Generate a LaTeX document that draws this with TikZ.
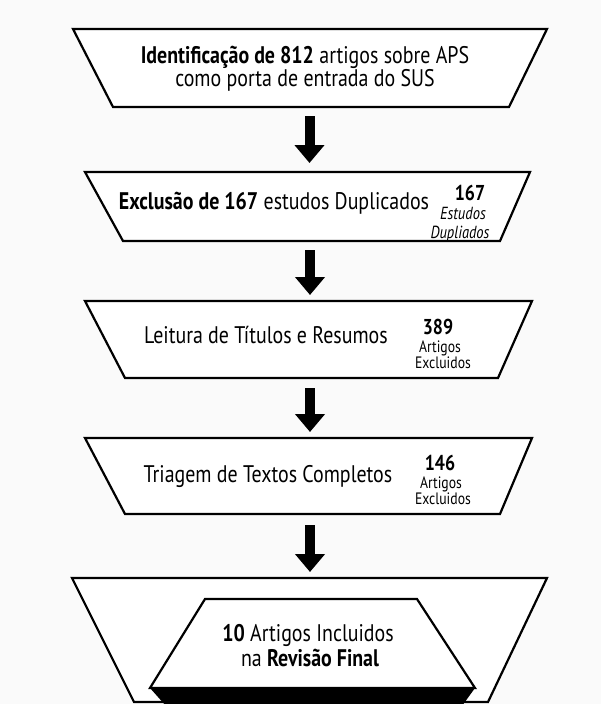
\documentclass[tikz,border=0pt]{standalone}
\usepackage{fontspec}
\setmainfont{PT Sans}[FakeStretch=0.83]
\usetikzlibrary{arrows.meta}
\begin{document}
\begin{tikzpicture}[x=1pt,y=-1pt,
 box/.style={draw=black, line width=2.2pt, line join=miter, fill=white},
 main/.style={anchor=base, inner sep=0pt, font=\fontsize{24}{26}\selectfont},
 side/.style={anchor=base, inner sep=0pt, font=\fontsize{16.5}{18}\selectfont},
 sideit/.style={anchor=base, inner sep=0pt, font=\fontsize{17.5}{18}\selectfont\itshape},
 sidenum/.style={anchor=base, inner sep=0pt, font=\fontsize{21.5}{22}\selectfont\bfseries},
 flow/.style={line width=10pt, -{Triangle[width=29pt,length=18pt]}, draw=black}
]
\fill[white!98!black] (0,0) rectangle (601,704);
\useasboundingbox (0,0) rectangle (601,704);

% boxes
\draw[box] (73,29) -- (547,29) -- (509,107) -- (113,107) -- cycle;
\draw[box] (85,172) -- (530,172) -- (500,241) -- (123,241) -- cycle;
\draw[box] (85,301) -- (532,301) -- (498,378) -- (125,378) -- cycle;
\draw[box] (85,438) -- (532,438) -- (500,514) -- (125,514) -- cycle;
\draw[box] (72,578) -- (547,578) -- (488,702) -- (134,702) -- cycle;
\fill[black] (150,688) -- (475,688) -- (462,706) -- (166,706) -- cycle;
\draw[box] (205,599) -- (417,599) -- (475,688) -- (150,688) -- cycle;

% texts
\node[main] (t1a) at (305,63) {\textbf{Identificação de 812} artigos sobre APS};
\node[main] (t1b) at (305,86) {como porta de entrada do SUS};

\node[main] (t2) at (274,209) {\textbf{Exclusão de 167} estudos Duplicados};
\node[sidenum] (n2) at (470,200) {167};
\node[sideit] (s2a) at (463,219) {Estudos};
\node[sideit] (s2b) at (460,238) {Dupliados};

\node[main] (t3) at (266,343) {Leitura de Títulos e Resumos};
\node[sidenum] (n3) at (438,334) {389};
\node[side] (s3a) at (440,352) {Artigos};
\node[side] (s3b) at (443,368) {Excluidos};

\node[main] (t4) at (268,482) {Triagem de Textos Completos};
\node[sidenum] (n4) at (440,470) {146};
\node[side] (s4a) at (441,488) {Artigos};
\node[side] (s4b) at (443,504) {Excluidos};

\node[main] (t5a) at (308,641) {\textbf{10} Artigos Incluidos};
\node[main] (t5b) at (310,666) {na \textbf{Revisão Final}};

% arrows
\coordinate (a1s) at (309.5,116);
\coordinate (a1e) at (309.5,163);
\coordinate (a2s) at (310,250);
\coordinate (a2e) at (310,295);
\coordinate (a3s) at (310,388);
\coordinate (a3e) at (310,432);
\coordinate (a4s) at (310,525);
\coordinate (a4e) at (310,572);
\draw[flow] (a1s) -- (a1e);
\draw[flow] (a2s) -- (a2e);
\draw[flow] (a3s) -- (a3e);
\draw[flow] (a4s) -- (a4e);
\end{tikzpicture}
\end{document}
